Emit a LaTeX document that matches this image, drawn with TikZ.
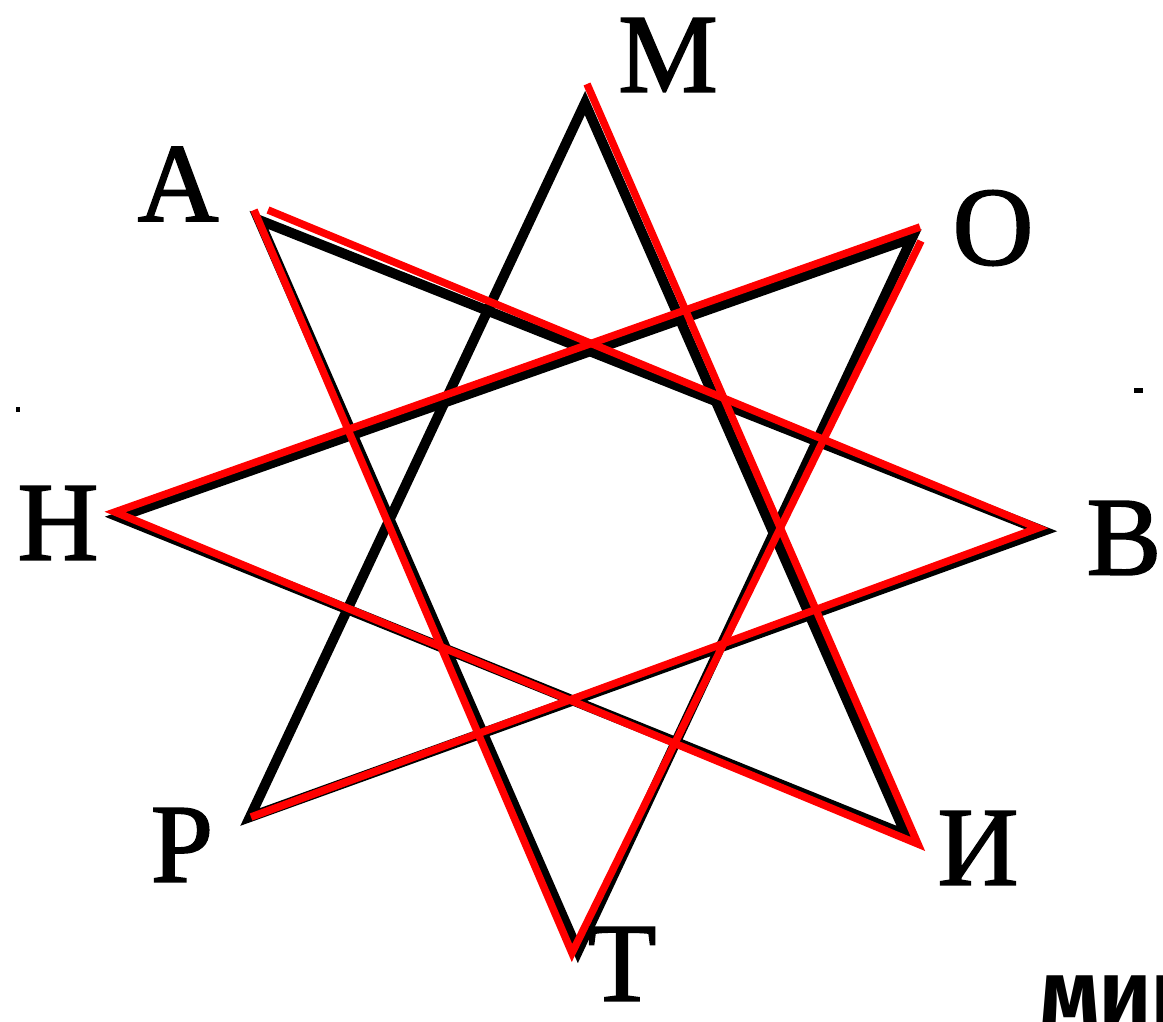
\documentclass[tikz,border=0pt]{standalone}
\usepackage{fontspec}
\setmainfont{Liberation Serif}
\newfontfamily\lblfont[FakeBold=1.6]{Liberation Serif}
\newfontfamily\comicfont{Fira Sans}
\begin{document}
\begin{tikzpicture}[x=1pt,y=-1pt,
  blackline/.style={draw=black,line width=10pt,line join=miter},
  redline/.style={draw=red,line width=7.5pt,line join=miter},
  lbl/.style={inner sep=0pt,font=\lblfont\fontsize{112}{114}\selectfont},
  speck/.style={fill=black,draw=none}]
\useasboundingbox[fill=white] (0,0) rectangle (1163,1021);
% black star vertices
\coordinate (M) at (585,103);
\coordinate (A) at (259,220);
\coordinate (O) at (912,238);
\coordinate (H) at (119,517);
\coordinate (B) at (1043,531);
\coordinate (P) at (250,817);
\coordinate (I) at (906,835);
\coordinate (T) at (578,951);
\draw[blackline] (M) -- (I) -- (H) -- (O) -- (T) -- (A) -- (B) -- (P) -- cycle;
% red segments
\coordinate (Pr) at (251,817);
\coordinate (Br) at (1038,528);
\coordinate (Ar2) at (268,210);
\coordinate (Ar1) at (254,210);
\coordinate (Tr) at (572,953);
\coordinate (Or2) at (921,241);
\coordinate (Or1) at (920,227);
\coordinate (Hr) at (115,512);
\coordinate (Ir) at (918,844);
\coordinate (Mr) at (587,84);
\draw[redline] (Pr) -- (Br) -- (Ar2);
\draw[redline] (Ar1) -- (Tr) -- (Or2);
\draw[redline] (Or1) -- (Hr) -- (Ir) -- (Mr);
% labels
\node[lbl] (lM) at (668,55) {М};
\node[lbl] (lA) at (178,184) {А};
\node[lbl] (lO) at (993,228) {О};
\node[lbl] (lH) at (58,523) {Н};
\node[lbl] (lB) at (1124,538) {В};
\node[lbl] (lP) at (182,845) {Р};
\node[lbl] (lI) at (978,848) {И};
\node[lbl] (lT) at (622,964) {Т};
% cut-off word
\node[inner sep=0pt,anchor=base west,font=\comicfont\bfseries\fontsize{88}{90}\selectfont] (w) at (1040,1022) {мин};
% specks
\fill[speck] (1134,388) rectangle (1143,393);
\fill[speck] (16,407) rectangle (20,412);
\end{tikzpicture}
\end{document}
